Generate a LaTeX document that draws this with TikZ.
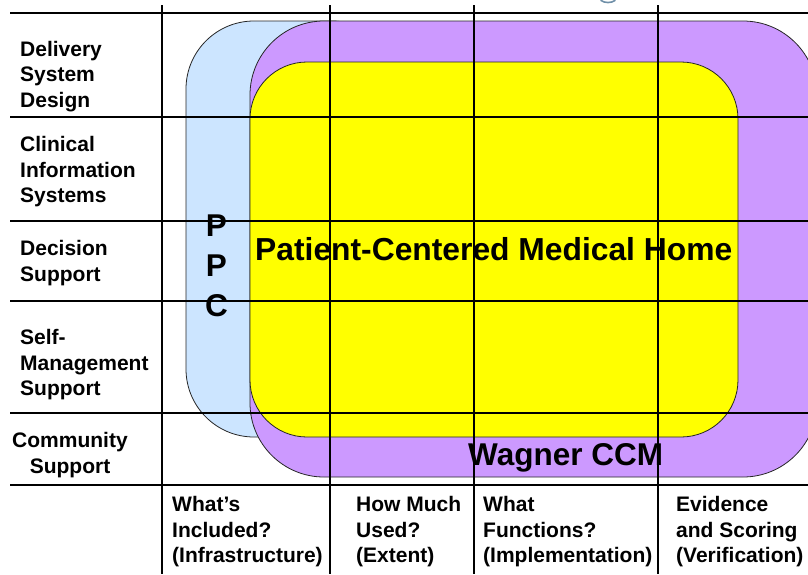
\documentclass[tikz,border=0pt]{standalone}
\usepackage{fontspec}
\setmainfont{Liberation Sans}
\definecolor{ppcblue}{HTML}{CCE5FF}
\definecolor{ccmpurple}{HTML}{CC99FF}
\definecolor{homeyellow}{HTML}{FFFF00}
\definecolor{titleslate}{HTML}{6F8FA8}
\begin{document}
\begin{tikzpicture}[x=1pt,y=-1pt,
  gridline/.style={line width=2pt, draw=black},
  zone/.style={draw=black!85, line width=0.8pt},
  labelfont/.style={font=\bfseries\fontsize{21}{25.5}\selectfont},
  rowlabel/.style={labelfont, anchor=north west, align=left, inner sep=0pt},
  collabel/.style={labelfont, anchor=north west, align=left, inner sep=0pt},
  bigtext/.style={font=\bfseries\fontsize{31.5}{40}\selectfont, inner sep=0pt}]
\useasboundingbox (0,0) rectangle (808,574);
\clip (0,0) rectangle (808,574);

% descender of the cut-off title above the table
\draw[titleslate, line width=1.6pt, line cap=round]
  (601,0.5) .. controls (605,3.2) and (611,3.2) .. (615,0.5);

% nested model regions
\draw[zone, fill=ppcblue, rounded corners=68pt] (186,21) rectangle (400,437);
\draw[zone, fill=ccmpurple, rounded corners=74pt] (250,21) rectangle (817,477);
\draw[zone, fill=homeyellow, rounded corners=57pt] (250,62) rectangle (738,437);

% region titles
\node[bigtext, anchor=north, align=center] (ppc) at (216.5,214.5) {P\\P\\C};
\node[bigtext, font=\bfseries\fontsize{31.8}{40}\selectfont, anchor=base west] (pcmh) at (255,260) {Patient-Centered Medical Home};
\node[bigtext, anchor=base west] (ccm) at (468,465) {Wagner CCM};

% row headings
\node[rowlabel] (rdelivery) at (20,40.7) {Delivery\\System\\Design};
\node[rowlabel] (rclinical) at (20,136.4) {Clinical\\Information\\Systems};
\node[rowlabel] (rdecision) at (20,240.2) {Decision\\Support};
\node[rowlabel] (rself) at (20,329.2) {Self-\\Management\\Support};
\node[rowlabel, anchor=north, align=center] (rcommunity) at (70,432.2) {Community\\Support};

% column headings
\node[collabel] (cincluded) at (172,496.2) {What’s\\Included?\\(Infrastructure)};
\node[collabel] (cused) at (356,496.2) {How Much\\Used?\\(Extent)};
\node[collabel] (cfunctions) at (483,496.2) {What\\Functions?\\(Implementation)};
\node[collabel] (cevidence) at (676,496.2) {Evidence\\and Scoring\\(Verification)};

% table rules
\foreach \yy in {13,116.7,220.7,300.7,413,485}
  \draw[gridline] (10,\yy) -- (808,\yy);
\foreach \xx in {162,330,474,658}
  \draw[gridline] (\xx,5) -- (\xx,574);
\end{tikzpicture}
\end{document}
